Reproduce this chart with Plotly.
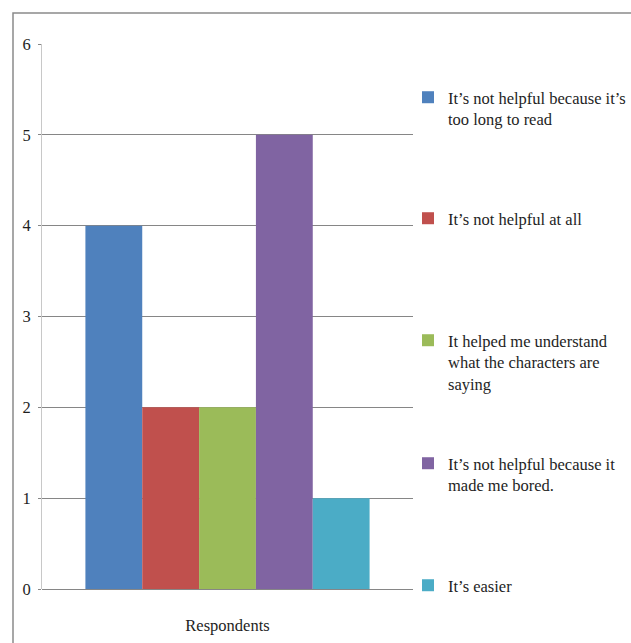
import plotly.graph_objects as go

categories = ["Respondents"]
series_names = [
    "It’s not helpful because it’s<br>too long to read",
    "It’s not helpful at all",
    "It helped me understand<br>what the characters are<br>saying",
    "It’s not helpful because it<br>made me bored.",
    "It’s easier",
]
series_values = [4, 2, 2, 5, 1]
colors = ["#4F81BD", "#C0504D", "#9BBB59", "#8064A2", "#4BACC6"]
y_ticks = [0, 1, 2, 3, 4, 5, 6]

W, H = 631, 643
L, R, T, B = 42, 413, 44, 589  # plot area in px

def px_x(p):
    return (p - L) / (R - L)

def px_y(p):
    return (B - p) / (B - T)

FONT = "Liberation Serif"
TXT = "#1e1e1e"
FS = 16.5

fig = go.Figure()
legend_first_lines = [97, 218, 340, 463, 585]
for i, (name, val, col) in enumerate(zip(series_names, series_values, colors)):
    lg = "legend" if i == 0 else f"legend{i+1}"
    fig.add_trace(go.Bar(
        x=categories, y=[val], name=name, marker=dict(color=col, line=dict(width=0)),
        legend=lg, hoverinfo="y+name",
    ))

legend_common = dict(
    font=dict(family=FONT, size=FS, color=TXT),
    bgcolor="rgba(0,0,0,0)", borderwidth=0,
    xanchor="left", yanchor="top", valign="top",
    x=px_x(408), itemclick=False, itemdoubleclick=False,
)
layout_legends = {}
for i, fl in enumerate(legend_first_lines):
    key = "legend" if i == 0 else f"legend{i+1}"
    layout_legends[key] = dict(legend_common, y=px_y(fl - 17))

fig.update_layout(
    width=W, height=H,
    margin=dict(l=L, r=W - R, t=T, b=H - B, pad=0, autoexpand=False),
    paper_bgcolor="white", plot_bgcolor="white",
    barmode="group", bargap=0.234, bargroupgap=0,
    showlegend=True,
    font=dict(family=FONT, size=FS, color=TXT),
    xaxis=dict(
        type="category", range=[-0.5, 0.5], showgrid=False, showline=False,
        ticks="", tickfont=dict(family=FONT, size=FS, color=TXT),
        ticklabelstandoff=24, fixedrange=True,
    ),
    yaxis=dict(
        range=[0, 6], tickvals=y_ticks, showgrid=True, gridcolor="#868686", gridwidth=1,
        zeroline=True, zerolinecolor="#868686", zerolinewidth=1,
        showline=True, linecolor="#c8c8c8", linewidth=1,
        ticks="outside", ticklen=3, tickcolor="#868686",
        tickfont=dict(family=FONT, size=FS, color=TXT),
        ticklabelstandoff=4, fixedrange=True,
    ),
    shapes=[dict(
        type="rect", xref="paper", yref="paper",
        x0=px_x(13), x1=px_x(660), y0=px_y(680), y1=px_y(13),
        line=dict(color="#8a8a8a", width=1.5), fillcolor="rgba(0,0,0,0)", layer="below",
    )],
    **layout_legends,
)

fig.write_html("out.html")
